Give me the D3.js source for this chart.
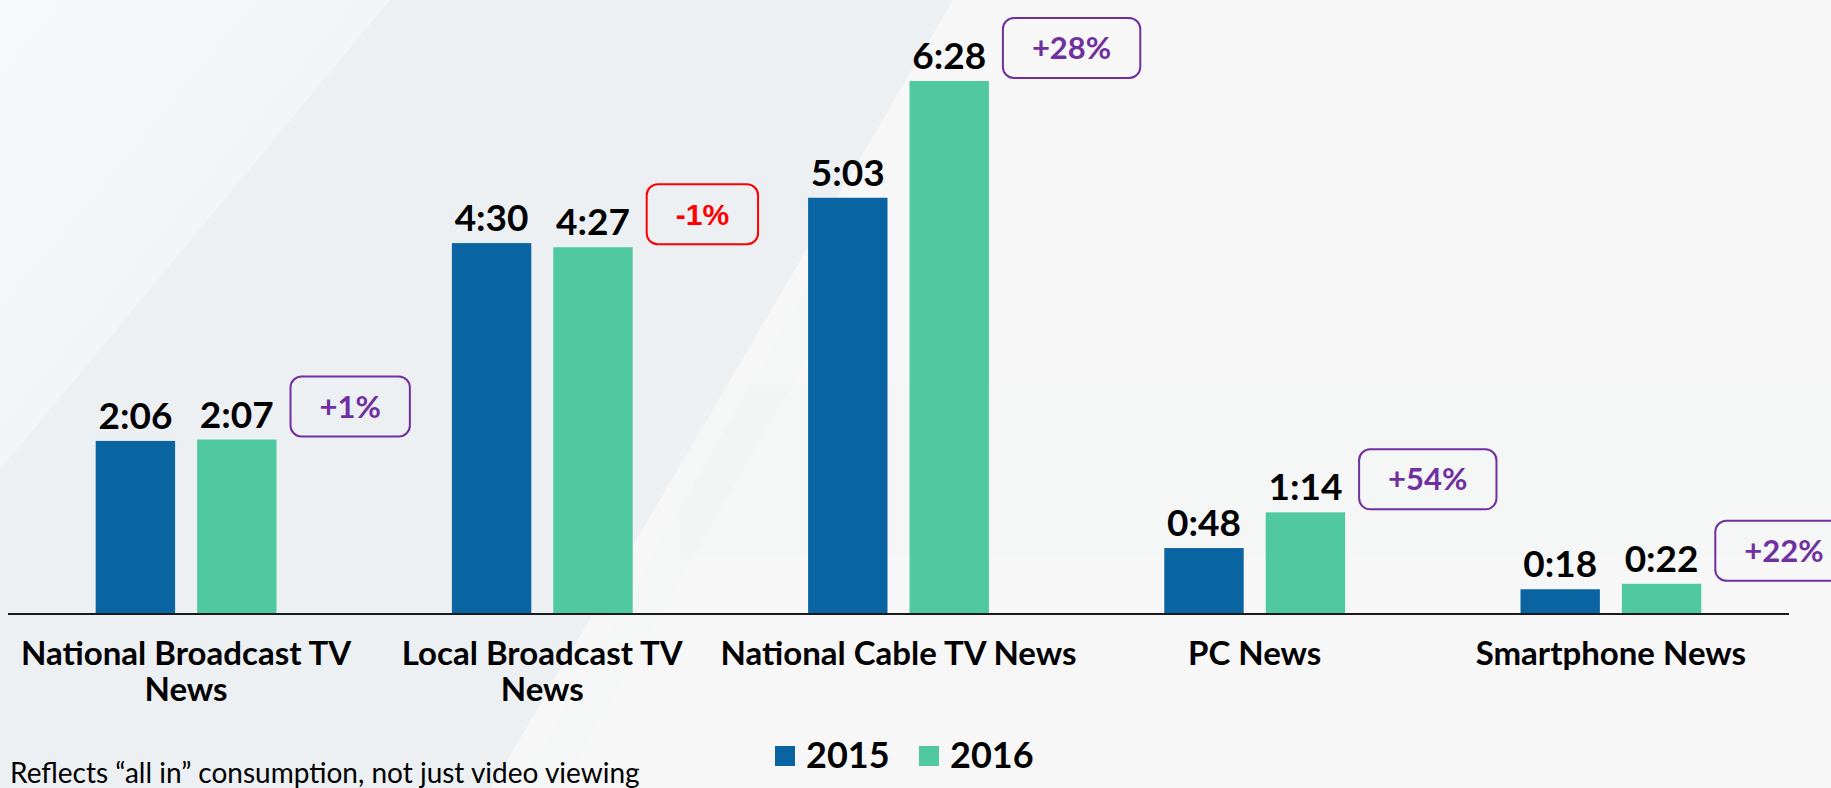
<!DOCTYPE html>
<html>
<head>
<meta charset="utf-8">
<script src="https://cdn.jsdelivr.net/npm/d3@7"></script>
<style>
  html, body { margin: 0; padding: 0; background: #f7f7f7; }
  svg { display: block; }
</style>
</head>
<body>
<svg id="chart" width="1831" height="788"></svg>
<script>
// ---- data ----
const categories = ["National Broadcast TV News", "Local Broadcast TV News", "National Cable TV News", "PC News", "Smartphone News"];
const categoryLines = [["National Broadcast TV", "News"], ["Local Broadcast TV", "News"], ["National Cable TV News"], ["PC News"], ["Smartphone News"]];
const seriesKeys = ["2015", "2016"];
const minutes2015 = [126, 270, 303, 48, 18];   // 2:06, 4:30, 5:03, 0:48, 0:18
const minutes2016 = [127, 267, 388, 74, 22];   // 2:07, 4:27, 6:28, 1:14, 0:22
const changeLabels = ["+1%", "-1%", "+28%", "+54%", "+22%"];
const footnote = "Reflects \u201call in\u201d consumption, not just video viewing";

const colors = { "2015": "#0964a1", "2016": "#50c9a0" };
const W = 1831, H = 788;
const svg = d3.select("#chart");

// ---- background ----
const defs = svg.append("defs");
const g1 = defs.append("linearGradient").attr("id", "tl").attr("x1", "0").attr("y1", "0").attr("x2", "1").attr("y2", "1");
g1.append("stop").attr("offset", "0").attr("stop-color", "#f7f8f9");
g1.append("stop").attr("offset", "1").attr("stop-color", "#eef1f4");
svg.append("rect").attr("width", W).attr("height", H).attr("fill", "#f7f7f7");
svg.append("polygon").attr("points", "0,0 953,0 491,788 0,788").attr("fill", "#edf0f3");
svg.append("polygon").attr("points", "0,0 390,0 0,470").attr("fill", "url(#tl)");
svg.append("polygon").attr("points", "560,788 520,788 840,230 880,230").attr("fill", "#f3f5f6").attr("opacity", 0.5);
svg.append("rect").attr("x", 680).attr("y", 385).attr("width", 1151).attr("height", 170).attr("fill", "#f2f4f4").attr("opacity", 0.35);

// ---- scales ----
const x0 = d3.scaleBand().domain(categories).range([8, 1789]).paddingInner(0.4924).paddingOuter(0.2462);
const x1 = d3.scaleBand().domain(seriesKeys).range([0, x0.bandwidth()]).paddingInner(0.217);
const y = d3.scaleLinear().domain([0, 388]).range([614, 81]);

const rows = categories.map((c, i) => ({ cat: c, i, vals: [
  { key: "2015", v: minutes2015[i] },
  { key: "2016", v: minutes2016[i] }
]}));

const fmt = m => Math.floor(m / 60) + ":" + String(m % 60).padStart(2, "0");

// ---- bars ----
const groups = svg.append("g").selectAll("g").data(rows).join("g")
  .attr("transform", d => `translate(${x0(d.cat)},0)`);

groups.selectAll("rect").data(d => d.vals).join("rect")
  .attr("x", d => x1(d.key))
  .attr("y", d => y(d.v))
  .attr("width", x1.bandwidth())
  .attr("height", d => y(0) - y(d.v))
  .attr("fill", d => colors[d.key]);

groups.selectAll("text.val").data(d => d.vals).join("text")
  .attr("class", "val")
  .attr("x", d => x1(d.key) + x1.bandwidth() / 2)
  .attr("y", d => y(d.v) - 12)
  .attr("text-anchor", "middle")
  .attr("font-family", "Lato, 'Open Sans', sans-serif")
  .attr("font-weight", "bold")
  .attr("font-size", 37)
  .attr("fill", "#000")
  .text(d => fmt(d.v));

// ---- change boxes ----
const boxes = svg.append("g").selectAll("g").data(rows).join("g");
boxes.each(function(d) {
  const g = d3.select(this);
  const neg = changeLabels[d.i].startsWith("-");
  const col = neg ? "#ff0000" : "#7030a0";
  const barRight = x0(d.cat) + x1("2016") + x1.bandwidth();
  const barTop = y(minutes2016[d.i]);
  const left = barRight + 14;
  const bottom = barTop - 3;
  const h = 60;
  const t = g.append("text")
    .attr("text-anchor", "middle")
    .attr("font-family", neg ? "'Liberation Sans', Arial, sans-serif" : "Lato, sans-serif")
    .attr("font-weight", "bold")
    .attr("font-size", neg ? 30 : 31)
    .attr("fill", col)
    .text(changeLabels[d.i]);
  const tw = t.node().getComputedTextLength();
  const w = tw + 58;
  g.insert("rect", "text")
    .attr("x", left).attr("y", bottom - h)
    .attr("width", w).attr("height", h)
    .attr("rx", 11).attr("ry", 11)
    .attr("fill", "none").attr("stroke", col).attr("stroke-width", 2);
  t.attr("x", left + w / 2).attr("y", bottom - h / 2 + 11);
});

// ---- axis line ----
svg.append("line").attr("x1", 8).attr("x2", 1789).attr("y1", 614).attr("y2", 614)
  .attr("stroke", "#1a1a1a").attr("stroke-width", 2);

// ---- category labels ----
const catLab = svg.append("g").selectAll("text").data(rows).join("text")
  .attr("text-anchor", "middle")
  .attr("font-family", "Lato, sans-serif")
  .attr("font-weight", "bold")
  .attr("font-size", 33)
  .attr("fill", "#000")
  .attr("x", d => x0(d.cat) + x0.bandwidth() / 2)
  .attr("y", 665);
catLab.selectAll("tspan").data(d => categoryLines[d.i].map(l => ({ l, x: x0(d.cat) + x0.bandwidth() / 2 }))).join("tspan")
  .attr("x", d => d.x)
  .attr("dy", (d, i) => i === 0 ? 0 : 36)
  .text(d => d.l);

// ---- legend ----
const legend = svg.append("g");
const legX = [775, 919];
seriesKeys.forEach((k, i) => {
  legend.append("rect").attr("x", legX[i]).attr("y", 746).attr("width", 20).attr("height", 20).attr("fill", colors[k]);
  legend.append("text").attr("x", legX[i] + 31).attr("y", 768)
    .attr("font-family", "Lato, sans-serif").attr("font-weight", "bold").attr("font-size", 36)
    .attr("fill", "#000").text(k);
});

// ---- footnote ----
svg.append("text").attr("x", 10).attr("y", 783)
  .attr("font-family", "Lato, sans-serif").attr("font-size", 28).attr("fill", "#000")
  .text(footnote);
</script>
</body>
</html>
